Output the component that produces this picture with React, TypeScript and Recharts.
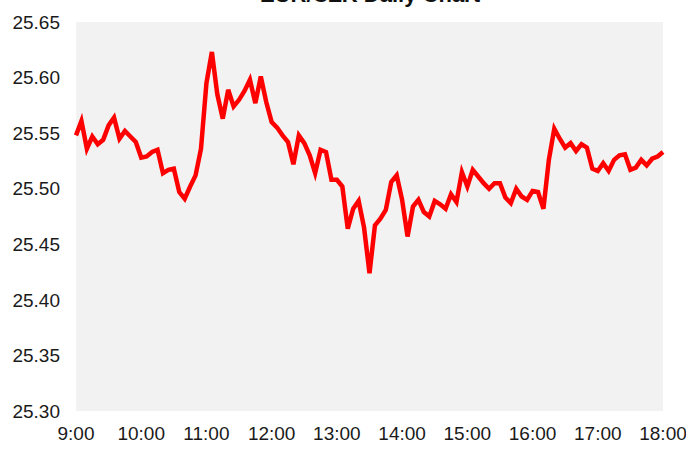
import React from "react";
import { LineChart, Line, XAxis, YAxis, CartesianGrid } from "recharts";

// 5-minute prices from 9:00 to 18:00
const prices = [
  25.548, 25.561, 25.536, 25.547, 25.54, 25.544, 25.557, 25.564, 25.545, 25.552,
  25.547, 25.542, 25.528, 25.529, 25.533, 25.535, 25.514, 25.517, 25.518, 25.497,
  25.491, 25.502, 25.512, 25.536, 25.595, 25.623, 25.585, 25.563, 25.589, 25.574,
  25.58, 25.588, 25.598, 25.577, 25.601, 25.578, 25.56, 25.555, 25.548, 25.542,
  25.522, 25.548, 25.541, 25.53, 25.514, 25.535, 25.533, 25.508, 25.508, 25.502,
  25.464, 25.482, 25.489, 25.465, 25.424, 25.467, 25.473, 25.481, 25.506, 25.512,
  25.49, 25.457, 25.484, 25.49, 25.479, 25.475, 25.489, 25.486, 25.482, 25.495,
  25.488, 25.515, 25.502, 25.517, 25.511, 25.505, 25.5, 25.505, 25.505, 25.492,
  25.487, 25.5, 25.493, 25.49, 25.498, 25.497, 25.482, 25.526, 25.554, 25.545,
  25.537, 25.541, 25.534, 25.54, 25.537, 25.518, 25.516, 25.523, 25.516, 25.526,
  25.53, 25.531, 25.517, 25.519, 25.526, 25.521, 25.527, 25.529, 25.533,
];

const hourTicks = [0, 60, 120, 180, 240, 300, 360, 420, 480, 540];
const hourLabels = ["9:00", "10:00", "11:00", "12:00", "13:00", "14:00", "15:00", "16:00", "17:00", "18:00"];
const priceTicks = [25.3, 25.35, 25.4, 25.45, 25.5, 25.55, 25.6, 25.65];

const data = prices.map((p, i) => ({ t: i * 5, price: p }));

const font = "'Liberation Sans', Arial, sans-serif";

export default function App() {
  return (
    <div style={{ position: "absolute", left: 0, top: 0, width: 686, height: 450, background: "#fff", overflow: "hidden" }}>
      {/* title sits mostly above the frame, as in the source image */}
      <div
        style={{
          position: "absolute",
          top: -18,
          left: 0,
          width: 740,
          textAlign: "center",
          fontFamily: font,
          fontWeight: "bold",
          fontSize: 22,
          color: "#111",
        }}
      >
        EUR/CZK Daily Chart
      </div>
      <LineChart width={686} height={450} data={data} margin={{ top: 22, right: 23, left: 0, bottom: 0 }}>
        <CartesianGrid horizontal={false} vertical={false} fill="#F2F2F2" stroke="none" />
        <XAxis
          dataKey="t"
          type="number"
          domain={[0, 540]}
          ticks={hourTicks}
          tickFormatter={(v) => hourLabels[hourTicks.indexOf(v)]}
          axisLine={false}
          tickLine={false}
          tickSize={0}
          tickMargin={16}
          height={39}
          interval={0}
          tick={{ fill: "#1a1a1a", fontSize: 19, fontFamily: font }}
        />
        <YAxis
          type="number"
          domain={[25.3, 25.65]}
          ticks={priceTicks}
          tickFormatter={(v) => v.toFixed(2)}
          axisLine={false}
          tickLine={false}
          tickSize={0}
          tickMargin={16}
          width={76}
          interval={0}
          tick={{ fill: "#1a1a1a", fontSize: 19, fontFamily: font }}
        />
        <Line
          type="linear"
          dataKey="price"
          stroke="#FF0000"
          strokeWidth={4.5}
          dot={false}
          isAnimationActive={false}
        />
      </LineChart>
    </div>
  );
}
